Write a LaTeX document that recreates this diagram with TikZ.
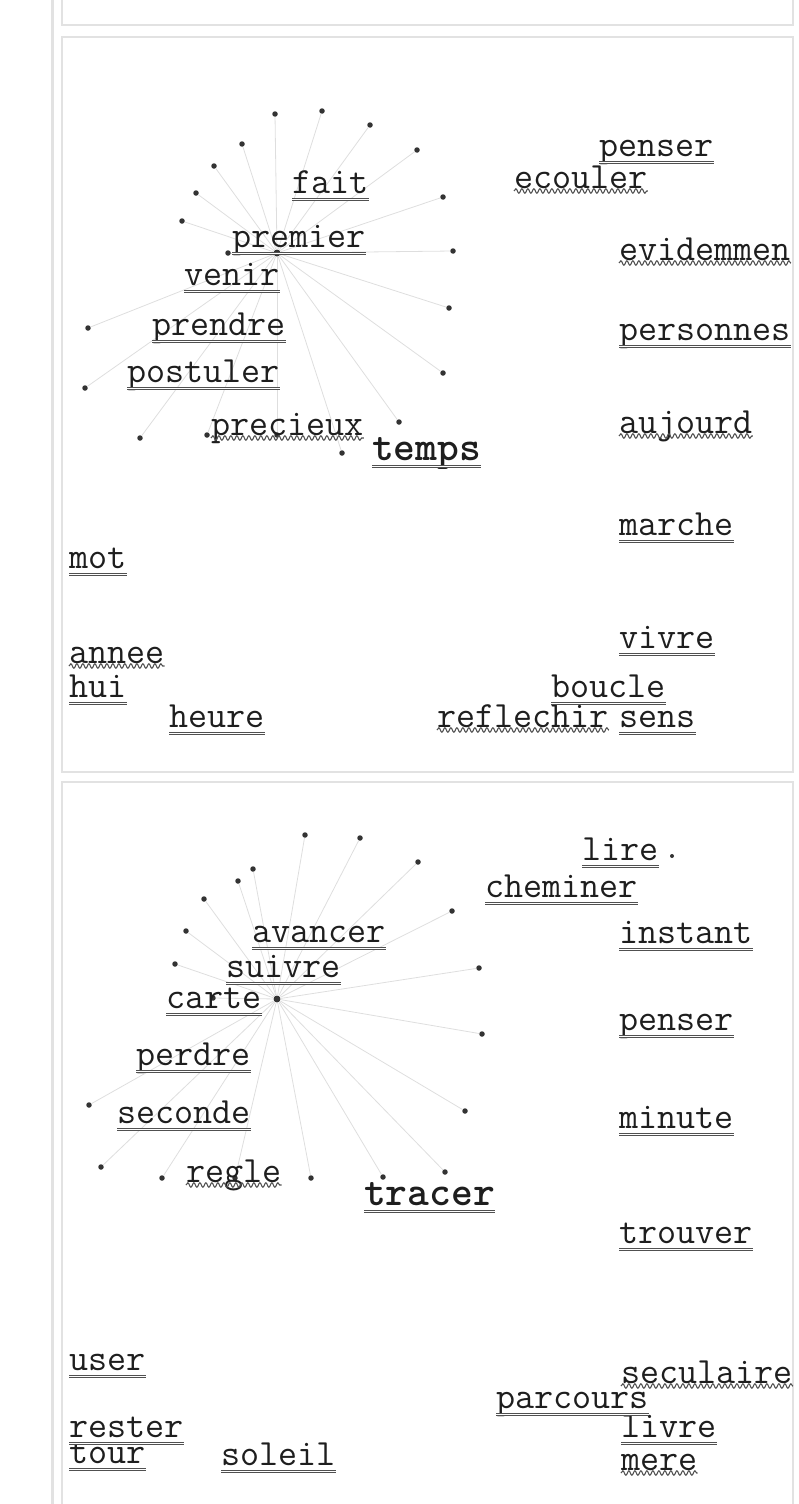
\documentclass[tikz,border=0pt]{standalone}
\usepackage{fontspec}
\usepackage{tikz}
\usetikzlibrary{
  positioning,
  decorations.pathmorphing
}
\definecolor{panelborder}{RGB}{226,226,226}
\definecolor{spokegray}{RGB}{222,222,222}
\definecolor{wordink}{RGB}{30,30,30}
\definecolor{lineink}{RGB}{80,80,80}
\tikzset{
  wordnode/.style={
    anchor=base west, inner sep=0pt, text=wordink,
    font=\ttfamily\fontsize{37}{40}\selectfont
  },
  bigword/.style={
    wordnode, font=\ttfamily\bfseries\fontsize{41.5}{44}\selectfont
  },
  dblline/.style={
    draw=lineink, line width=1pt, double=white, double distance=1.4pt
  },
  wavyline/.style={
    draw=lineink, line width=1.1pt, decorate,
    decoration={snake, segment length=6pt, amplitude=2.2pt}
  },
  spoke/.style={draw=spokegray, line width=0.8pt},
  leafdot/.style={circle, fill=black!80, inner sep=0pt, minimum size=5.5pt},
  hubdot/.style={leafdot, minimum size=7pt},
  panelframe/.style={draw=panelborder, line width=2pt}
}

\begin{document}
\begin{tikzpicture}[x=1pt, y=-1pt]
  \useasboundingbox (0,0) rectangle (798,1504);

  % panels
  \draw[panelframe, line width=3pt] (52,0) -- (52,1504);
  \draw[panelframe] (62,0) |- (793,25) -- (793,0);
  \draw[panelframe] (62,37) rectangle (793,772);
  \draw[panelframe] (62,1510) |- (793,782) -- (793,1510);

  % first star
  \node[hubdot] (hubA) at (277,253) {};
  \foreach \x/\y [count=\i] in {275/114, 322/111, 370/125, 417/150, 443/197,
      453/251, 449/308, 443/373, 399/422, 342/453, 277/435, 207/435, 140/438,
      85/388, 88/328, 182/221, 196/193, 214/166, 242/144, 228/253} {
    \node[leafdot] (hubA-\i) at (\x,\y) {};
    \draw[spoke] (hubA) -- (hubA-\i);
  }

  % second star
  \node[hubdot] (hubB) at (277,999) {};
  \foreach \x/\y [count=\i] in {305/835, 360/838, 418/862, 452/911, 479/968,
      482/1034, 465/1111, 445/1172, 383/1177, 311/1178, 235/1178, 162/1178,
      101/1167, 89/1105, 175/964, 186/931, 204/899, 238/881, 253/869, 213/998} {
    \node[leafdot] (hubB-\i) at (\x,\y) {};
    \draw[spoke] (hubB) -- (hubB-\i);
  }
  \node[leafdot, minimum size=4pt] (lonedot) at (672,856) {};

  % words, first panel
  \node[wordnode] (penserA) at (599,156) {penser};
  \node[wordnode] (ecouler) at (514,188) {ecouler};
  \node[wordnode] (fait) at (292,193) {fait};
  \node[wordnode] (premier) at (232,247) {premier};
  \node[wordnode] (evidemmen) at (619,260) {evidemmen};
  \node[wordnode] (venir) at (184,285) {venir};
  \node[wordnode] (prendre) at (152,335) {prendre};
  \node[wordnode] (personnes) at (619,340) {personnes};
  \node[wordnode] (postuler) at (127,382) {postuler};
  \node[wordnode] (aujourd) at (619,433) {aujourd};
  \node[wordnode] (precieux) at (211,435) {precieux};
  \node[bigword] (temps) at (372,460) {temps};
  \node[wordnode] (marche) at (619,535) {marche};
  \node[wordnode] (mot) at (69,568) {mot};
  \node[wordnode] (vivre) at (619,648) {vivre};
  \node[wordnode] (annee) at (69,663) {annee};
  \node[wordnode] (hui) at (69,697) {hui};
  \node[wordnode] (boucle) at (551,697) {boucle};
  \node[wordnode] (reflechir) at (437,727) {reflechir};
  \node[wordnode] (sens) at (619,727) {sens};
  \node[wordnode] (heure) at (169,727) {heure};

  % words, second panel
  \node[wordnode] (lire) at (582,860) {lire};
  \node[wordnode] (cheminer) at (485,897) {cheminer};
  \node[wordnode] (avancer) at (252,942) {avancer};
  \node[wordnode] (instant) at (619,943) {instant};
  \node[wordnode] (suivre) at (226,977) {suivre};
  \node[wordnode] (carte) at (166,1008) {carte};
  \node[wordnode] (penserB) at (619,1030) {penser};
  \node[wordnode] (perdre) at (136,1065) {perdre};
  \node[wordnode] (seconde) at (117,1123) {seconde};
  \node[wordnode] (minute) at (619,1128) {minute};
  \node[wordnode] (regle) at (186,1182) {regle};
  \node[bigword] (tracer) at (364,1205) {tracer};
  \node[wordnode] (trouver) at (619,1243) {trouver};
  \node[wordnode] (user) at (69,1370) {user};
  \node[wordnode] (seculaire) at (621,1383) {seculaire};
  \node[wordnode] (parcours) at (496,1408) {parcours};
  \node[wordnode] (livre) at (621,1437) {livre};
  \node[wordnode] (rester) at (69,1437) {rester};
  \node[wordnode] (tour) at (69,1463) {tour};
  \node[wordnode] (soleil) at (221,1465) {soleil};
  \node[wordnode] (mere) at (621,1470) {mere};

  % underlines
  \foreach \w in {penserA, fait, premier, venir, prendre, personnes, postuler,
      temps, marche, mot, vivre, hui, boucle, sens, heure, lire, cheminer,
      avancer, instant, suivre, carte, penserB, perdre, seconde, minute,
      tracer, trouver, user, parcours, livre, rester, tour, soleil}
    \draw[dblline] ([yshift=-6.5pt]\w.base west) -- ([yshift=-6.5pt]\w.base east);
  \foreach \w in {ecouler, evidemmen, aujourd, precieux, annee, reflechir,
      regle, seculaire, mere}
    \draw[wavyline] ([yshift=-3pt]\w.base west) -- ([yshift=-3pt]\w.base east);

\end{tikzpicture}
\end{document}
